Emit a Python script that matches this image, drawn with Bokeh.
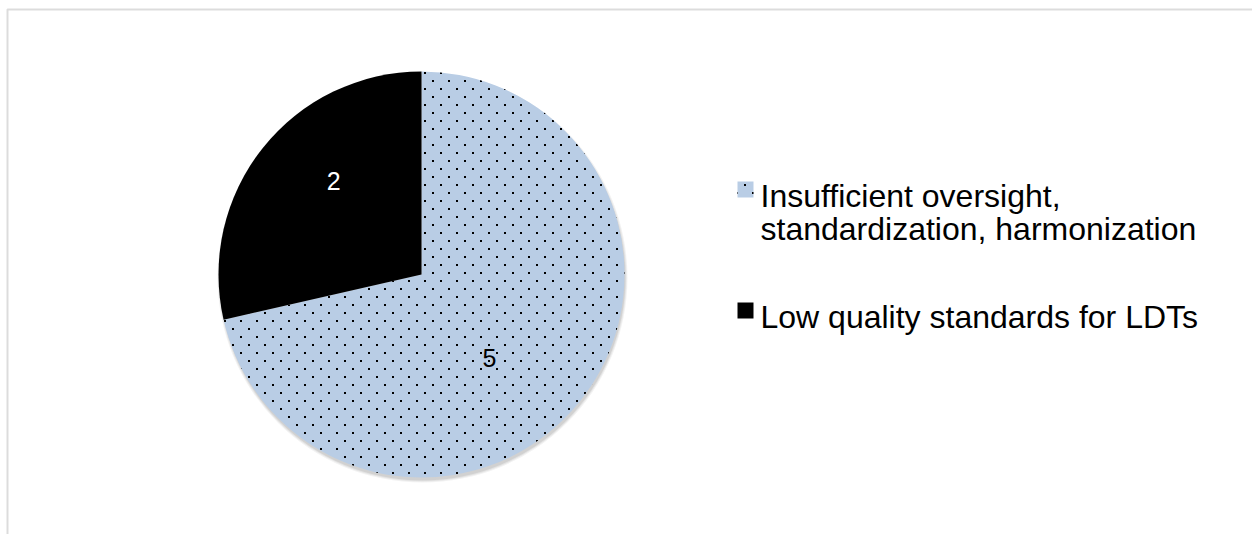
import math, zlib, struct, base64
from bokeh.plotting import figure
from bokeh.models import (Range1d, BoxAnnotation, ColumnDataSource, ImageURLTexture)
from bokeh.core.properties import value
from bokeh.embed import file_html
from bokeh.resources import INLINE

# ---- data ----
categories = ["Insufficient oversight,\nstandardization, harmonization",
              "Low quality standards for LDTs"]
counts = [5, 2]
slice_colors = ["#B9CDE5", "#000000"]
label_colors = ["#000000", "#FFFFFF"]
hatches = ["dots", " "]

# ---- layout constants ----
W, H = 1252, 534
CX, CY, R = 421, H - 274, 203
FONT = "Liberation Sans"
LEG_SW_X = 745          # legend swatch centre (px)
LEG_TXT_X = 760         # legend text left (px)
LEG_TOP = 194           # centre of the first legend line, px from top
LEG_LINE_H = 34
LEG_GAP = 53
LEG_FONT = 32


def dot_texture_png(size=16, dot=2):
    """Small transparent tile with two staggered black dots (Excel 'dotted' fill)."""
    rows = []
    for y in range(size):
        row = bytearray([0])
        for x in range(size):
            on = ((x < dot and y < dot) or
                  (size // 2 <= x < size // 2 + dot and size // 2 <= y < size // 2 + dot))
            row += bytes([0, 0, 0, 255 if on else 0])
        rows.append(bytes(row))
    raw = b"".join(rows)

    def chunk(tag, data):
        return (struct.pack(">I", len(data)) + tag + data +
                struct.pack(">I", zlib.crc32(tag + data) & 0xffffffff))
    png = (b"\x89PNG\r\n\x1a\n" +
           chunk(b"IHDR", struct.pack(">IIBBBBB", size, size, 8, 6, 0, 0, 0)) +
           chunk(b"IDAT", zlib.compress(raw)) + chunk(b"IEND", b""))
    return "data:image/png;base64," + base64.b64encode(png).decode()


texture = ImageURLTexture(url=dot_texture_png(), repetition="repeat")

total = sum(counts)
starts, ends, lx, ly = [], [], [], []
cum = 0
for c in counts:
    end = math.pi / 2 - 2 * math.pi * cum / total
    cum += c
    start = math.pi / 2 - 2 * math.pi * cum / total
    starts.append(start)
    ends.append(end)
    mid = (start + end) / 2 - math.radians(10)
    lx.append(CX + 0.58 * R * math.cos(mid))
    ly.append(CY + 0.58 * R * math.sin(mid))

# legend rows (one per category), stacked by number of text lines
leg_y_line, leg_y_sw = [], []
offset = 0
for cat in categories:
    centre = LEG_TOP + offset
    leg_y_line.append(H - (centre - LEG_LINE_H / 2))   # top of first line box
    leg_y_sw.append(H - (centre - 5))
    offset += (cat.count("\n") + 1) * LEG_LINE_H + LEG_GAP

src = ColumnDataSource(dict(cat=categories, count=counts, start=starts, end=ends,
                            color=slice_colors, hatch=hatches,
                            lx=lx, ly=ly, lcolor=label_colors,
                            txt=[str(c) for c in counts],
                            legx=[LEG_TXT_X] * len(categories), legy=leg_y_line,
                            swx=[LEG_SW_X] * len(categories), swy=leg_y_sw))

p = figure(width=W, height=H, output_backend="svg", toolbar_location=None,
           x_range=Range1d(0, W), y_range=Range1d(0, H), min_border=0)
p.axis.visible = False
p.grid.visible = False
p.outline_line_color = None
p.background_fill_color = "white"
p.border_fill_color = "white"

# chart frame (cropped: only left and top edges visible)
p.add_layout(BoxAnnotation(left=7, right=W + 20, bottom=-20, top=H - 9,
                           fill_alpha=0, line_color="#8a8a8a", line_width=2,
                           level="underlay"))

# soft shadow
for k, a in [(4, 0.05), (3, 0.06), (2, 0.08)]:
    p.circle(x=CX + 1, y=CY - 3, radius=R + k - 2, fill_color="black",
             fill_alpha=a, line_color=None)

wedges = p.wedge(x=CX, y=CY, radius=R, start_angle="start", end_angle="end",
                 direction="anticlock", source=src, fill_color="color",
                 line_color=None, hatch_pattern="hatch", hatch_color="black",
                 hatch_extra={"dots": texture})

p.text(x="lx", y="ly", text="txt", source=src, text_color="lcolor",
       text_font=value(FONT), text_font_size="25px", x_offset=-10, y_offset=-5,
       text_align="center", text_baseline="middle")

# legend (swatch aligned with the first line of each entry, as in the original)
p.rect(x="swx", y="swy", width=16, height=16, source=src, fill_color="color",
       line_color=None, hatch_pattern="hatch", hatch_color="black",
       hatch_extra={"dots": texture})
p.text(x="legx", y="legy", text="cat", source=src, text_color="#000000",
       text_font=value(FONT), text_font_size=f"{LEG_FONT}px",
       text_line_height=0.92,
       text_align="left", text_baseline="top")

open("out.html", "w").write(file_html(p, INLINE))
